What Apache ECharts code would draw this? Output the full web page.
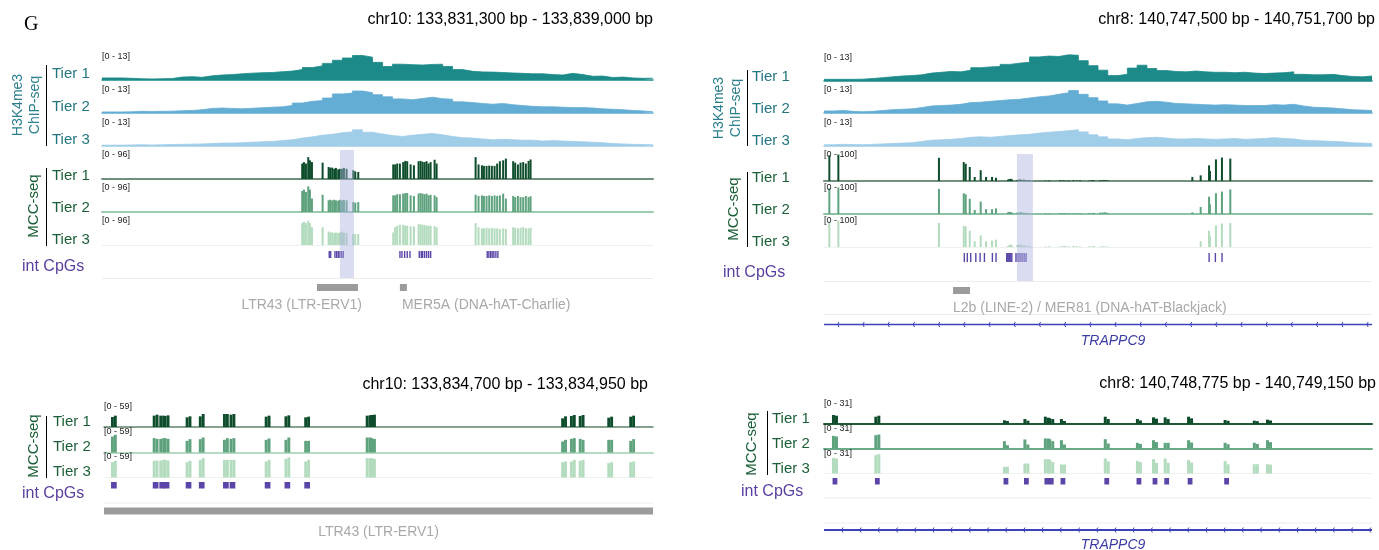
<!DOCTYPE html>
<html>
<head>
<meta charset="utf-8">
<script src="https://cdn.jsdelivr.net/npm/echarts@6/dist/echarts.min.js"></script>
<style>
  html, body { margin: 0; padding: 0; background: #fff; }
  #chart { width: 1379px; height: 550px; }
</style>
</head>
<body>
<div id="chart"></div>
<script>
// ---------------- windows ----------------
const chr10WideStart = 133831300, chr10WideEnd = 133839000;
const chr8WideStart = 140747500, chr8WideEnd = 140751700;
const chr10ZoomStart = 133834700, chr10ZoomEnd = 133834950;
const chr8ZoomStart = 140748775, chr8ZoomEnd = 140749150;

// ---------------- chr10 wide window (positions = bp from window start) ----------------
const chr10ChipBin = 140;
const chr10ChipTier1 = [1.0,1.0,0.8,0.6,0.5,0.6,0.7,1.4,1.6,1.3, 2.0,2.4,2.6,3.0,3.3,3.5,3.6,4.0,4.3,5.0,
  6.0,6.8,8.0,9.5,10.6,11.8,11.0,8.5,6.5,7.6, 7.4,7.2,7.5,7.6,6.5,5.0,4.2,3.9,3.8,3.6,
  3.4,3.2,3.0,3.0,2.6,2.4,3.2,2.6,1.8,1.9, 1.2,1.4,1.0,0.8,0.9];
const chr10ChipTier2 = [0.5,0.5,0.6,0.8,0.7,0.8,0.9,1.1,1.2,1.6, 2.2,2.4,2.2,2.0,2.3,2.5,2.8,3.0,3.6,4.8,
  5.6,6.0,7.2,9.2,9.6,10.6,9.8,8.8,7.8,6.8, 6.4,7.0,7.6,6.9,6.6,5.4,5.0,4.6,4.2,4.6,
  4.0,3.6,3.2,3.0,3.0,2.8,2.6,2.6,2.4,2.0, 1.8,1.6,1.2,1.0,0.6];
const chr10ChipTier3 = [0.4,0.4,0.5,0.6,0.5,0.6,0.7,0.8,0.9,1.0, 1.2,1.4,1.4,1.6,1.8,2.0,2.2,2.6,3.0,3.8,
  4.4,5.2,5.6,6.4,6.8,7.8,6.6,5.8,5.0,4.6, 5.2,5.6,6.0,5.4,4.6,4.0,3.8,3.4,3.0,3.2,
  3.0,2.8,2.8,2.4,2.6,2.4,2.2,2.0,1.8,1.6, 1.2,1.0,0.8,0.7,0.6];
const chr10ChipMax = 13;

const chr10MccPos = [2798,2822,2850,2882,2906,2934,3083,3167,3189,3217,3245,3269,3301,3325,3353,3381,3418,3511,3539,3581,
  4070,4097,4125,4163,4209,4237,4265,4313,4359,4424,4452,4480,4508,4536,4564,4592,4648,4676,
  5221,5262,5309,5337,5374,5411,5448,5486,5522,5560,5606,5644,5746,5774,5812,5849,5886,5923,5961,5989];
const chr10MccTier1 = [53,58,53,75,64,58,56,41,39,39,35,38,33,35,35,38,35,30,26,24,
  50,50,53,53,58,62,61,50,47,61,62,59,58,61,53,58,66,53,
  75,50,47,45,45,46,45,45,53,61,64,70,61,56,50,56,58,53,62,67];
const chr10MccTier2 = [72,77,69,88,77,46,59,40,42,40,42,40,39,42,40,42,40,34,32,34,
  57,57,61,61,63,65,65,57,55,63,65,63,61,63,57,59,57,51,
  59,55,57,55,55,57,55,57,55,57,63,46,55,51,55,51,51,55,51,54];
const chr10MccTier3 = [75,80,75,83,75,61,61,46,43,43,41,43,41,43,46,43,41,38,38,38,
  43,61,66,69,69,66,66,64,64,71,71,69,69,66,66,66,64,61,
  75,61,57,57,59,57,59,57,57,55,57,55,61,59,57,59,61,58,57,59];
const chr10MccMax = 96;
const chr10CpgPos = [3175,3195,3255,3279,3301,3325,3349,3371,
  4163,4191,4229,4265,4303,4433,4461,4480,4508,4536,4564,4592,
  5383,5406,5430,5452,5476,5504,5532];
const chr10RepeatStart = [3004, 4163];
const chr10RepeatEnd = [3577, 4261];
const chr10RepeatName = ['LTR43 (LTR-ERV1)', 'MER5A (DNA-hAT-Charlie)'];
const chr10Highlight = [3325, 3521];

// ---------------- chr8 wide window ----------------
const chr8ChipBin = 75;
const chr8ChipTier1 = [0.8,0.8,0.8,0.9,1.2,1.6,2.0,2.4,2.6,3.0, 3.8,4.2,4.6,4.4,5.2,6.4,6.8,7.0,8.0,8.6,
  9.0,11.6,12.0,11.8,12.6,12.4,9.8,7.4,5.2,2.6, 3.2,6.2,7.6,6.0,5.0,4.6,4.4,4.8,4.4,4.2,
  4.2,4.0,4.2,3.8,3.6,3.8,4.0,4.4,3.2,3.0, 3.0,3.2,2.6,2.2,2.0,2.4];
const chr8ChipTier2 = [1.0,1.2,0.8,0.6,0.8,1.2,1.6,1.8,2.0,2.6, 3.4,3.6,3.8,4.2,5.0,5.2,5.6,6.0,6.4,6.6,
  7.2,7.8,8.2,9.0,9.8,10.8,9.0,7.4,5.8,4.4, 3.8,4.6,5.4,5.6,5.2,4.6,4.4,4.2,4.0,3.8,
  4.0,3.8,3.6,3.6,3.6,4.0,3.8,4.2,3.4,2.8, 2.6,2.4,2.0,1.6,1.4,1.2];
const chr8ChipTier3 = [0.6,0.8,0.7,0.6,0.8,1.0,1.2,1.4,1.6,2.2, 2.8,3.0,3.2,3.6,4.2,4.4,4.2,4.6,5.0,5.4,
  5.6,6.2,6.6,7.0,7.4,7.8,6.8,5.4,4.4,3.4, 3.0,3.6,4.0,4.2,3.8,3.4,3.4,3.6,3.4,3.2,
  3.4,3.6,3.2,3.4,3.6,4.0,3.6,3.4,2.8,2.6, 2.4,2.2,2.0,1.6,1.4,1.2];
const chr8ChipMax = 13;

const chr8MccPos = [41,110,881,1071,1086,1117,1155,1201,1242,1288,1318,
  1410,1420,1431,1441, 1481,1497,1512,1533,1553,1574,
  1699,1727,1809,1829,1849,1875,1911,1937,1962,2034,2054,2069,2115,2136,2156,2174,
  2823,2887,2951,2958,3004,3050,3114];
const chr8MccTier1 = [95,98,86,70,64,52,15,40,15,15,12, 5,7,8,6, 4,6,5,5,3,3,
  2,3,3,3,2,3,3,2,3,2,3,3,3,4,3,3, 15,21,58,37,80,87,83];
const chr8MccTier2 = [95,98,93,77,73,56,15,46,18,18,21, 6,8,7,5, 5,6,7,5,4,3,
  3,2,3,3,3,3,2,3,3,4,3,4,5,6,7,4, 6,26,64,36,77,83,91];
const chr8MccTier3 = [95,98,89,77,77,60,21,43,21,24,27, 4,6,9,5, 7,9,8,6,5,4,
  2,3,2,4,4,3,4,3,2,3,2,3,2,3,2,2, 0,21,60,40,80,87,89];
const chr8MccMax = 100;
const chr8CpgPos = [1075,1098,1124,1163,1196,1229,1290,1318,
  1400,1408,1416,1423,1431,1439,1471,1487,1502,1517,1533,1548,
  2951,2999,3050];
const chr8RepeatStart = [989];
const chr8RepeatEnd = [1119];
const chr8RepeatName = ['L2b (LINE-2) / MER81 (DNA-hAT-Blackjack)'];
const chr8Highlight = [1479, 1601];
const chr8Gene = { name: 'TRAPPC9', start: -12000, end: 9000 };

// ---------------- chr10 zoomed window: per CpG [C on + strand, C on - strand] ----------------
const chr10ZoomCpgPos = [4,23,26,28,38,44,55,58,74,83,92,120,122,209,213,217,230,240];
const chr10ZoomTier1 = [[25.7,29.1],[29.1,31.6],[29.1,29.1],[28.2,29.9],[24.8,27.4],[27.4,33.3],[33.3,33.3],[31.6,33.3],
  [26.5,29.1],[27.4,29.9],[24.8,26.5],[29.1,29.9],[30.8,31.6],[22.2,27.4],[28.2,30.8],[28.2,30.8],[23.9,26.5],[26.5,29.1]];
const chr10ZoomTier2 = [[41.0,45.3],[36.8,35.0],[35.0,36.8],[36.8,35.0],[29.9,34.2],[34.2,38.5],[32.5,36.8],[35.0,36.8],
  [32.5,35.9],[32.5,38.5],[29.9,29.9],[38.5,38.5],[36.8,35.0],[28.2,32.5],[35.0,36.8],[35.0,32.5],[32.5,32.5],[29.9,34.2]];
const chr10ZoomTier3 = [[39.3,42.8],[42.8,43.6],[43.6,45.3],[45.3,43.6],[39.3,42.8],[45.3,49.6],[45.3,45.3],[45.3,45.3],
  [41.0,45.3],[47.9,51.3],[41.0,45.3],[49.6,49.6],[49.6,47.9],[39.3,41.0],[41.0,45.3],[42.8,45.3],[36.8,39.3],[39.3,41.0]];
const chr10ZoomMax = 59;
const chr10ZoomIntCpg = [4,23,26,28,38,44,55,58,74,83,92];
const chr10ZoomRepeatStart = [-396];
const chr10ZoomRepeatEnd = [262];
const chr10ZoomRepeatName = ['LTR43 (LTR-ERV1)'];

// ---------------- chr8 zoomed window ----------------
const chr8ZoomCpgPos = [7,36,124,138,152,155,163,193,215,226,234,250,275,295,304];
const chr8ZoomTier1 = [[12.7,11.7],[10.3,11.7],[5.2,4.2],[7.0,4.7],[10.3,8.9],[8.0,7.0],[7.0,4.2],[10.3,7.0],
  [7.0,5.0],[9.4,7.5],[9.4,7.0],[10.3,8.0],[5.6,4.5],[4.7,4.0],[6.1,5.0]];
const chr8ZoomTier2 = [[17.8,16.9],[18.8,19.7],[10.3,4.7],[12.7,5.6],[14.1,14.1],[13.1,10.3],[11.7,5.6],[13.1,7.0],
  [8.0,6.5],[11.7,9.0],[8.0,8.0],[11.7,8.5],[8.0,6.0],[8.0,6.5],[11.7,9.0]];
const chr8ZoomTier3 = [[22.0,21.1],[25.8,27.2],[9.4,9.4],[14.1,14.1],[20.2,20.2],[18.8,16.4],[12.7,12.7],[21.1,17.0],
  [17.8,16.0],[20.2,15.0],[21.1,15.0],[18.8,15.5],[17.4,13.0],[13.1,13.1],[13.1,12.5]];
const chr8ZoomMax = 31;
const chr8ZoomIntCpg = [7,36,124,138,152,155,163,193,215,226,234,250,275];
const chr8ZoomGene = { name: 'TRAPPC9', start: -6000, end: 4000 };

// ---------------- drawing helpers ----------------
const FONT = '"Liberation Sans", Arial, Helvetica, sans-serif';
const grids = [], xAxes = [], yAxes = [], series = [], graphics = [];

function track(x0, x1, top, height, span, ymax, base) {
  const i = grids.length;
  grids.push({ left: x0, top: top, width: x1 - x0, height: height, containLabel: false, outerBoundsMode: 'none' });
  xAxes.push({ gridIndex: i, type: 'value', min: 0, max: span,
    axisLine: { show: !!base, onZero: false, lineStyle: base || {} },
    axisTick: { show: false }, axisLabel: { show: false }, splitLine: { show: false } });
  yAxes.push({ gridIndex: i, type: 'value', min: 0, max: ymax || 1, show: false });
  return i;
}

function chipTrack(i, values, bin, color) {
  const pts = values.map((v, k) => [k * bin, v]);
  pts.push([values.length * bin, values[values.length - 1]]);
  series.push({ type: 'line', xAxisIndex: i, yAxisIndex: i, data: pts, step: 'end', symbol: 'none',
    lineStyle: { width: 0.8, color: color }, itemStyle: { color: color },
    areaStyle: { color: color, opacity: 1 }, silent: true, animation: false, z: 2 });
}

function thinBars(i, pos, vals, color, w) {
  series.push({ type: 'custom', xAxisIndex: i, yAxisIndex: i, silent: true, animation: false, z: 2,
    data: pos.map((p, k) => [p, vals[k]]),
    renderItem(params, api) {
      const t = api.coord([api.value(0), api.value(1)]);
      const b = api.coord([api.value(0), 0]);
      return { type: 'rect', shape: { x: t[0] - w / 2, y: t[1], width: w, height: b[1] - t[1] }, style: { fill: color } };
    } });
}

function pairBars(i, pos, pairs, color, half) {
  series.push({ type: 'custom', xAxisIndex: i, yAxisIndex: i, silent: true, animation: false, z: 2,
    data: pos.map((p, k) => [p, pairs[k][0], pairs[k][1]]),
    renderItem(params, api) {
      const c = api.coord([api.value(0) + 0.5, 0]);
      const yl = api.coord([api.value(0), api.value(1)])[1];
      const yr = api.coord([api.value(0), api.value(2)])[1];
      return { type: 'group', children: [
        { type: 'rect', shape: { x: c[0] - half, y: yl, width: half, height: c[1] - yl }, style: { fill: color } },
        { type: 'rect', shape: { x: c[0], y: yr, width: half, height: c[1] - yr }, style: { fill: color } }
      ] };
    } });
}

function cpgMarks(i, pos, minW, color) {
  series.push({ type: 'custom', xAxisIndex: i, yAxisIndex: i, silent: true, animation: false, z: 2,
    data: pos.map(p => [p, 0]),
    renderItem(params, api) {
      const cs = params.coordSys;
      const a = api.coord([api.value(0), 0])[0], b = api.coord([api.value(0) + 2, 0])[0];
      const cx = api.coord([api.value(0) + 0.5, 0])[0];
      const w = Math.max(b - a, minW);
      return { type: 'rect', shape: { x: cx - w / 2, y: cs.y, width: w, height: cs.height }, style: { fill: color } };
    } });
}

function repeatTrack(i, starts, ends, names, anchors, labelDy) {
  series.push({ type: 'custom', xAxisIndex: i, yAxisIndex: i, silent: true, animation: false, z: 2,
    data: starts.map((s, k) => [s, ends[k]]),
    renderItem(params, api) {
      const cs = params.coordSys;
      const x1 = Math.max(api.coord([api.value(0), 0])[0], cs.x);
      const x2 = Math.min(api.coord([api.value(1), 0])[0], cs.x + cs.width);
      const an = anchors[params.dataIndex];
      let tx = (x1 + x2) / 2, align = 'center';
      if (an.mode === 'start') { tx = x1 + an.dx; align = 'left'; }
      if (an.mode === 'end') { tx = x2 + an.dx; align = 'right'; }
      return { type: 'group', children: [
        { type: 'rect', shape: { x: x1, y: cs.y, width: x2 - x1, height: cs.height }, style: { fill: '#9b9b9b' } },
        { type: 'text', x: tx, y: cs.y + cs.height + labelDy,
          style: { text: names[params.dataIndex], fill: '#a9a9a9', font: '14px ' + FONT, align: align, verticalAlign: 'middle' } }
      ] };
    } });
}

function geneTrack(i, gene, opt) {
  series.push({ type: 'custom', xAxisIndex: i, yAxisIndex: i, silent: true, animation: false, z: 2,
    data: [[gene.start, gene.end]],
    renderItem(params, api) {
      const cs = params.coordSys;
      const x1 = Math.max(api.coord([api.value(0), 0])[0], cs.x);
      const x2 = Math.min(api.coord([api.value(1), 0])[0], cs.x + cs.width);
      const y = cs.y + cs.height / 2;
      const kids = [{ type: 'line', shape: { x1: x1, y1: y, x2: x2, y2: y }, style: { stroke: '#3d42b8', lineWidth: opt.lineWidth } }];
      // minus-strand chevrons along the intron line
      for (let x = x1 + opt.first; x < x2 - 2; x += opt.step) {
        kids.push({ type: 'polyline', shape: { points: [[x + 1, y - 2.5], [x - 0.5, y], [x + 1, y + 2.5]] },
          style: { stroke: '#3d42b8', lineWidth: 1, fill: null } });
      }
      kids.push({ type: 'text', x: (x1 + x2) / 2 + opt.labelDx, y: y + opt.labelDy,
        style: { text: gene.name, fill: '#3b3da5', font: 'italic 14px ' + FONT, align: 'center', verticalAlign: 'middle' } });
      return { type: 'group', children: kids };
    } });
}

function highlightBand(i, range) {
  series.push({ type: 'custom', xAxisIndex: i, yAxisIndex: i, silent: true, animation: false, z: 10,
    data: [[range[0], range[1]]],
    renderItem(params, api) {
      const cs = params.coordSys;
      const a = api.coord([api.value(0), 0])[0], b = api.coord([api.value(1), 0])[0];
      return { type: 'rect', shape: { x: a, y: cs.y, width: b - a, height: cs.height }, style: { fill: 'rgba(172,178,224,0.45)' } };
    } });
}

function text(x, y, str, opts) {
  const o = Object.assign({ color: '#000', size: 15, align: 'left', rot: 0, style: 'normal', family: FONT }, opts || {});
  graphics.push({ type: 'text', x: x, y: y, rotation: o.rot, silent: true, z: 20,
    style: { text: str, fill: o.color, font: o.style + ' ' + o.size + 'px ' + o.family,
      align: o.align, textAlign: o.align, verticalAlign: 'middle', textVerticalAlign: 'middle' } });
}
function vline(x, y1, y2, color) {
  graphics.push({ type: 'line', silent: true, z: 20, shape: { x1: x, y1: y1, x2: x, y2: y2 }, style: { stroke: color || '#000', lineWidth: 1 } });
}
function hline(x1, x2, y, color) {
  graphics.push({ type: 'line', silent: true, z: 1, shape: { x1: x1, y1: y, x2: x2, y2: y }, style: { stroke: color || '#ececec', lineWidth: 1 } });
}
const fmt = n => n.toLocaleString('en-US');
const range = m => '[0 - ' + m + ']';

const CHIP_COLORS = ['#1b8a88', '#63add4', '#a0cde8'];
const MCC_COLORS = ['#0e4d2b', '#5ea27e', '#b3dbbe'];
const CHIP_TEXT = '#23757f', MCC_TEXT = '#1b5f37', CPG_COLOR = '#5b45a8', CPG_TEXT = '#5a3ea0';

// ================= chr10 wide panel =================
(function () {
  const x0 = 102, x1 = 653, span = chr10WideEnd - chr10WideStart;
  const chips = [chr10ChipTier1, chr10ChipTier2, chr10ChipTier3];
  const mccs = [chr10MccTier1, chr10MccTier2, chr10MccTier3];
  const chipTops = [53, 86, 119], mccTops = [151, 184, 217];
  const mccBase = [{ color: '#70907b', width: 2 }, { color: '#9ccbb0', width: 2 }, { color: '#edf1ee', width: 1 }];
  chips.forEach((vals, k) => {
    const g = track(x0, x1, chipTops[k], 27, span, chr10ChipMax, { color: CHIP_COLORS[k], width: 1.5 });
    chipTrack(g, vals, chr10ChipBin, CHIP_COLORS[k]);
    text(x0, chipTops[k] + 4, range(chr10ChipMax), { size: 9, color: '#222' });
  });
  mccs.forEach((vals, k) => {
    const g = track(x0, x1, mccTops[k], 28, span, chr10MccMax, mccBase[k]);
    thinBars(g, chr10MccPos, vals, MCC_COLORS[k], 2);
    text(x0, mccTops[k] + 4, range(chr10MccMax), { size: 9, color: '#222' });
  });
  const gc = track(x0, x1, 251, 7, span, 1, null);
  cpgMarks(gc, chr10CpgPos, 1.4, CPG_COLOR);
  hline(x0, x1, 278.5);
  const gr = track(x0, x1, 284, 7, span, 1, null);
  repeatTrack(gr, chr10RepeatStart, chr10RepeatEnd, chr10RepeatName, [{ mode: 'end', dx: 4 }, { mode: 'start', dx: 2 }], 14);
  const gh = track(x0, x1, 150, 128, span, 1, null);
  highlightBand(gh, chr10Highlight);

  text(24, 25, 'G', { size: 20, family: '"Liberation Serif", "Times New Roman", serif' });
  text(x1, 20, 'chr10: ' + fmt(chr10WideStart) + ' bp - ' + fmt(chr10WideEnd) + ' bp', { size: 16, align: 'right' });
  text(18, 105, 'H3K4me3', { size: 14, color: '#2b7f8e', align: 'center', rot: Math.PI / 2 });
  text(35, 105, 'ChIP-seq', { size: 14, color: '#2b7f8e', align: 'center', rot: Math.PI / 2 });
  vline(46.5, 65, 146);
  [74, 107, 140].forEach((y, k) => text(52, y, 'Tier ' + (k + 1), { color: CHIP_TEXT }));
  text(34, 206, 'MCC-seq', { size: 15, color: MCC_TEXT, align: 'center', rot: Math.PI / 2 });
  vline(46.5, 168, 246);
  [176, 208, 240].forEach((y, k) => text(52, y, 'Tier ' + (k + 1), { color: MCC_TEXT }));
  text(22, 267, 'int CpGs', { size: 16, color: CPG_TEXT });
})();

// ================= chr8 wide panel =================
(function () {
  const x0 = 824, x1 = 1372, span = chr8WideEnd - chr8WideStart;
  const chips = [chr8ChipTier1, chr8ChipTier2, chr8ChipTier3];
  const mccs = [chr8MccTier1, chr8MccTier2, chr8MccTier3];
  const chipTops = [54, 86, 119], mccTops = [154, 187, 220];
  const mccBase = [{ color: '#73907c', width: 2 }, { color: '#8cc3a5', width: 2 }, { color: '#edf1ee', width: 1 }];
  chips.forEach((vals, k) => {
    const g = track(x0, x1, chipTops[k], 27, span, chr8ChipMax, { color: CHIP_COLORS[k], width: 1.5 });
    chipTrack(g, vals, chr8ChipBin, CHIP_COLORS[k]);
    text(x0, chipTops[k] + 3.5, range(chr8ChipMax), { size: 9, color: '#222' });
  });
  mccs.forEach((vals, k) => {
    const g = track(x0, x1, mccTops[k], 27, span, chr8MccMax, mccBase[k]);
    thinBars(g, chr8MccPos, vals, MCC_COLORS[k], 2);
    text(x0, mccTops[k] + 1, range(chr8MccMax), { size: 9, color: '#222' });
  });
  const gc = track(x0, x1, 253, 9, span, 1, null);
  cpgMarks(gc, chr8CpgPos, 1.4, CPG_COLOR);
  hline(x0, x1, 281.5);
  const gr = track(x0, x1, 287, 7, span, 1, null);
  repeatTrack(gr, chr8RepeatStart, chr8RepeatEnd, chr8RepeatName, [{ mode: 'start', dx: 0 }], 14);
  hline(x0, x1, 314.5);
  const gg = track(x0, x1, 318, 13, span, 1, null);
  geneTrack(gg, chr8Gene, { lineWidth: 1.5, first: 14, step: 25.2, labelDx: 15, labelDy: 17 });
  const gh = track(x0, x1, 154, 127, span, 1, null);
  highlightBand(gh, chr8Highlight);

  text(1375, 20, 'chr8: ' + fmt(chr8WideStart) + ' bp - ' + fmt(chr8WideEnd) + ' bp', { size: 16, align: 'right' });
  text(719, 108, 'H3K4me3', { size: 14, color: '#2b7f8e', align: 'center', rot: Math.PI / 2 });
  text(736, 108, 'ChIP-seq', { size: 14, color: '#2b7f8e', align: 'center', rot: Math.PI / 2 });
  vline(747.5, 70, 146);
  [77, 109, 141].forEach((y, k) => text(752, y, 'Tier ' + (k + 1), { color: CHIP_TEXT }));
  text(734, 209, 'MCC-seq', { size: 15, color: MCC_TEXT, align: 'center', rot: Math.PI / 2 });
  vline(747.5, 172, 247);
  [178, 210, 242].forEach((y, k) => text(752, y, 'Tier ' + (k + 1), { color: MCC_TEXT }));
  text(723, 273, 'int CpGs', { size: 16, color: CPG_TEXT });
})();

// ================= chr10 zoomed panel =================
(function () {
  const x0 = 104, x1 = 653, span = chr10ZoomEnd - chr10ZoomStart;
  const tiers = [chr10ZoomTier1, chr10ZoomTier2, chr10ZoomTier3];
  const tops = [404, 429.5, 454.5];
  const base = [{ color: '#5f8269', width: 1.5 }, { color: '#b5dbc3', width: 2 }, { color: '#edf1ee', width: 1 }];
  tiers.forEach((pairs, k) => {
    const g = track(x0, x1, tops[k], 23, span, chr10ZoomMax, base[k]);
    pairBars(g, chr10ZoomCpgPos, pairs, MCC_COLORS[k], 2.9);
    text(x0, tops[k] + 2.5, range(chr10ZoomMax), { size: 9, color: '#222' });
  });
  const gc = track(x0, x1, 482, 6.5, span, 1, null);
  cpgMarks(gc, chr10ZoomIntCpg, 5.7, CPG_COLOR);
  hline(x0, x1, 503);
  const gr = track(x0, x1, 507.5, 7, span, 1, null);
  repeatTrack(gr, chr10ZoomRepeatStart, chr10ZoomRepeatEnd, chr10ZoomRepeatName, [{ mode: 'center', dx: 0 }], 17.5);

  text(648, 385, 'chr10: ' + fmt(chr10ZoomStart) + ' bp - ' + fmt(chr10ZoomEnd) + ' bp', { size: 16, align: 'right' });
  text(34, 446, 'MCC-seq', { size: 15, color: MCC_TEXT, align: 'center', rot: Math.PI / 2 });
  vline(46.5, 416, 478);
  [422, 447, 472].forEach((y, k) => text(53, y, 'Tier ' + (k + 1), { color: MCC_TEXT }));
  text(22, 494, 'int CpGs', { size: 16, color: CPG_TEXT });
})();

// ================= chr8 zoomed panel =================
(function () {
  const x0 = 824, x1 = 1372, span = chr8ZoomEnd - chr8ZoomStart;
  const tiers = [chr8ZoomTier1, chr8ZoomTier2, chr8ZoomTier3];
  const tops = [402, 426.5, 451.5];
  const base = [{ color: '#1d5a36', width: 2 }, { color: '#6aab88', width: 2 }, { color: '#edf1ee', width: 1 }];
  tiers.forEach((pairs, k) => {
    const g = track(x0, x1, tops[k], 22, span, chr8ZoomMax, base[k]);
    pairBars(g, chr8ZoomCpgPos, pairs, MCC_COLORS[k], 3);
    text(x0, tops[k] + 2, range(chr8ZoomMax), { size: 9, color: '#222' });
  });
  const gc = track(x0, x1, 478, 6.5, span, 1, null);
  cpgMarks(gc, chr8ZoomIntCpg, 4.8, CPG_COLOR);
  hline(x0, x1, 498);
  hline(x0, x1, 523);
  const gg = track(x0, x1, 524, 12, span, 1, null);
  geneTrack(gg, chr8ZoomGene, { lineWidth: 2, first: 18, step: 18.2, labelDx: 15, labelDy: 15 });

  text(1376, 384, 'chr8: ' + fmt(chr8ZoomStart) + ' bp - ' + fmt(chr8ZoomEnd) + ' bp', { size: 16, align: 'right' });
  text(752, 444, 'MCC-seq', { size: 15, color: MCC_TEXT, align: 'center', rot: Math.PI / 2 });
  vline(767.5, 411, 475);
  [419, 444, 469].forEach((y, k) => text(772, y, 'Tier ' + (k + 1), { color: MCC_TEXT }));
  text(741, 492, 'int CpGs', { size: 16, color: CPG_TEXT });
})();

const chart = echarts.init(document.getElementById('chart'), null, { renderer: 'canvas' });
chart.setOption({
  backgroundColor: '#ffffff',
  animation: false,
  grid: grids,
  xAxis: xAxes,
  yAxis: yAxes,
  series: series,
  graphic: { elements: graphics }
});
</script>
</body>
</html>
